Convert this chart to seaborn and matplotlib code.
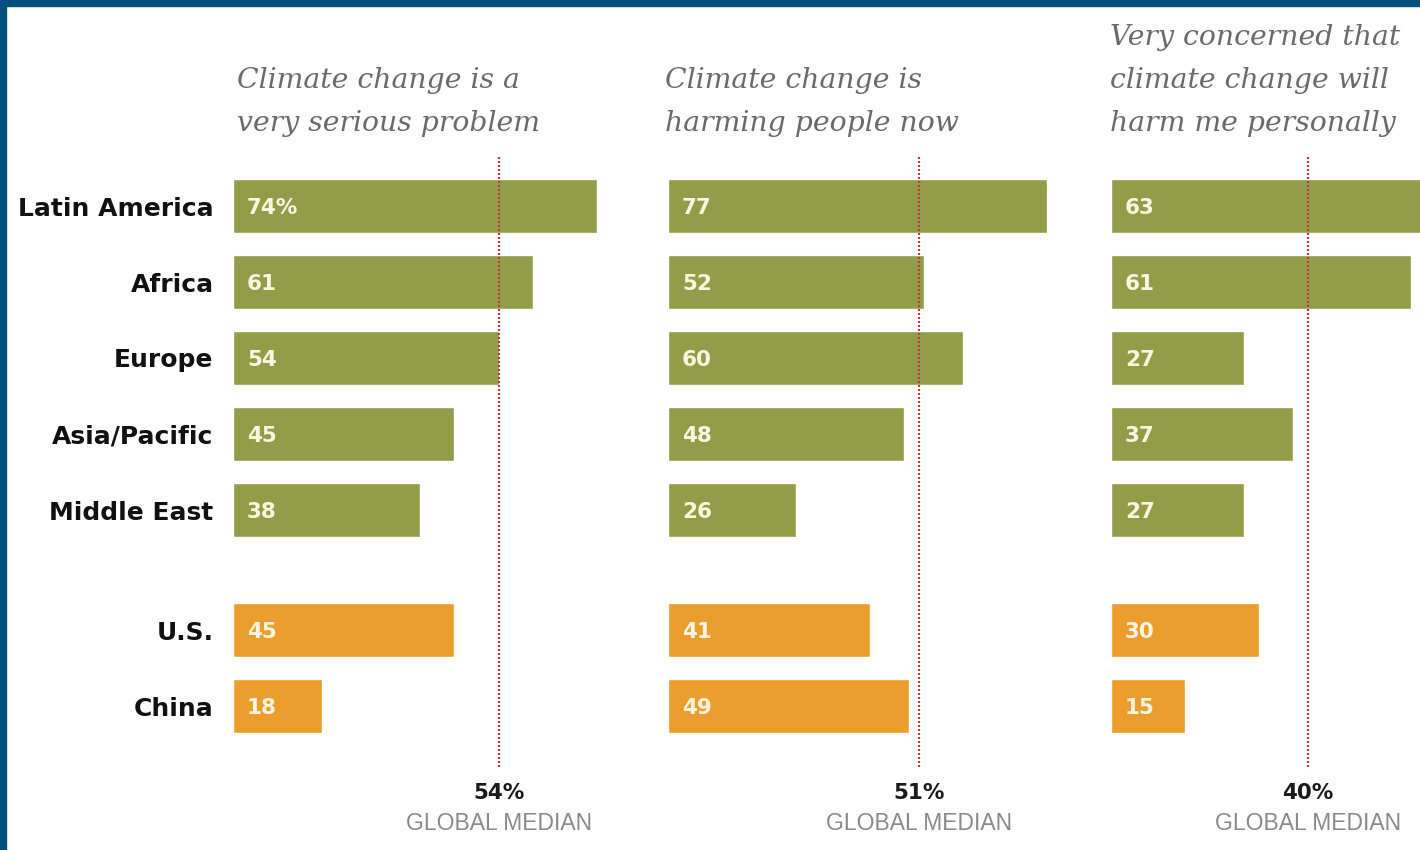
import matplotlib
matplotlib.use("Agg")
import matplotlib.pyplot as plt
import seaborn as sns
import pandas as pd
from matplotlib.patches import Rectangle

# ---------------- data ----------------
categories = ["Latin America", "Africa", "Europe", "Asia/Pacific", "Middle East", "U.S.", "China"]
groups = ["region", "region", "region", "region", "region", "country", "country"]
serious_problem = [74, 61, 54, 45, 38, 45, 18]
harming_now = [77, 52, 60, 48, 26, 41, 49]
harm_personally = [63, 61, 27, 37, 27, 30, 15]
panel_values = [serious_problem, harming_now, harm_personally]
titles = [
    ["Climate change is a", "very serious problem"],
    ["Climate change is", "harming people now"],
    ["Very concerned that", "climate change will", "harm me personally"],
]
medians = [54, 51, 40]
median_label = "GLOBAL MEDIAN"

# ---------------- style ----------------
GREEN = "#939d49"
ORANGE = "#eb9d2e"
VALUE_COLOR = "#fbf5e0"
TITLE_COLOR = "#6a6a6a"
MEDIAN_LINE = "#c0393f"
BORDER = "#02517c"

W, H, DPI = 1420, 850, 100
PX = 4.92            # pixels per percentage point
ROW = 76.0           # pixels per row
ROW0 = 206.0         # pixel centre of first row (from top)
AX_TOP, AX_BOT = 155, 767
GAP = 0.58           # extra gap (in rows) before the country group
panel_left = [233, 668, 1111]
panel_right = [640, 1090, 1420]
title_dx = [4, -3, -1]

sns.set_theme(style="white")
plt.rcParams["font.family"] = ["DejaVu Sans"]

fig = plt.figure(figsize=(W / DPI, H / DPI), dpi=DPI)
fig.patch.set_facecolor("white")

ypos = [i + (GAP if g == "country" else 0) for i, g in enumerate(groups)]

for p, vals in enumerate(panel_values):
    l, r = panel_left[p], panel_right[p]
    ax = fig.add_axes([l / W, 1 - AX_BOT / H, (r - l) / W, (AX_BOT - AX_TOP) / H])
    df = pd.DataFrame({"value": vals, "pos": ypos, "group": groups})
    sns.barplot(data=df, x="value", y="pos", hue="group",
                palette={"region": GREEN, "country": ORANGE},
                orient="h", native_scale=True, width=0.71, dodge=False,
                legend=False, saturation=1, errorbar=None, ax=ax)
    ax.set_xlim(0, (r - l) / PX)
    ax.set_ylim((AX_BOT - ROW0) / ROW, (AX_TOP - ROW0) / ROW)
    ax.set_xlabel("")
    ax.set_ylabel("")
    ax.set_xticks([])
    sns.despine(ax=ax, left=True, bottom=True)
    ax.patch.set_alpha(0)
    if p == 0:
        ax.set_yticks(ypos)
        ax.set_yticklabels(categories, fontsize=18, fontweight="bold", color="#111111",
                           family=["DejaVu Sans"])
        ax.tick_params(axis="y", length=0, pad=14)
    else:
        ax.set_yticks([])

    # value labels
    for i, (v, y) in enumerate(zip(vals, ypos)):
        txt = f"{v}%" if (p == 0 and i == 0) else f"{v}"
        ax.text(14 / PX, y + 0.03, txt, color=VALUE_COLOR, fontsize=15.5,
                fontweight="bold", va="center", ha="left", family=["DejaVu Sans"])

    # median line and labels
    ax.axvline(medians[p], color=MEDIAN_LINE, lw=1.6, ls=(0, (0.9, 0.9)), zorder=5)
    ax.annotate(f"{medians[p]}%", xy=(medians[p], H - 793),
                xycoords=("data", "figure pixels"), ha="center", va="center",
                fontsize=15.5, fontweight="bold", color="#1a1a1a",
                family=["DejaVu Sans"], annotation_clip=False)
    ax.annotate(median_label, xy=(medians[p], H - 823),
                xycoords=("data", "figure pixels"), ha="center", va="center",
                fontsize=16.5, color="#8a8a8a", family=["Liberation Sans"],
                annotation_clip=False)

    # title (bottom-aligned lines)
    lines = titles[p]
    for k, line in enumerate(lines):
        baseline = 131 - 43 * (len(lines) - 1 - k)
        fig.text((l + title_dx[p]) / W, 1 - baseline / H, line,
                 family=["DejaVu Serif"], style="italic", fontsize=20.3,
                 color=TITLE_COLOR, ha="left", va="baseline")

# frame border (top and left)
fig.patches.append(Rectangle((0, 1 - 6 / H), 1, 6 / H, transform=fig.transFigure,
                             color=BORDER, zorder=10))
fig.patches.append(Rectangle((0, 0), 6 / W, 1, transform=fig.transFigure,
                             color=BORDER, zorder=10))

fig.savefig("out.png", dpi=DPI, facecolor="white")
